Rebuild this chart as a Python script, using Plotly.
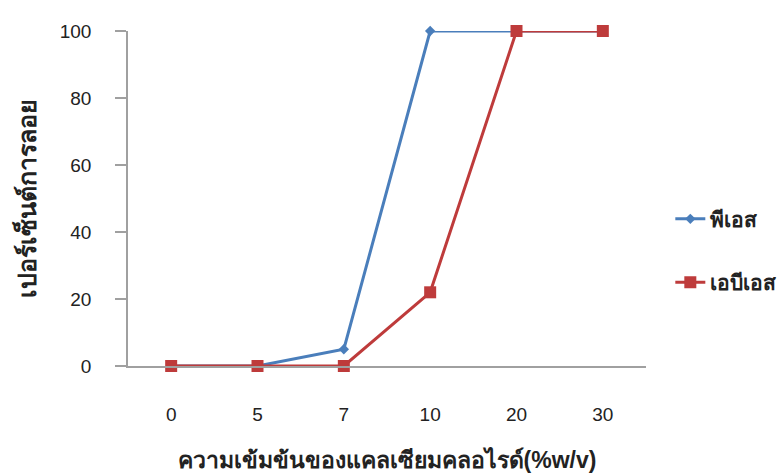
import plotly.graph_objects as go

# Calcium chloride concentration (%w/v) and float percentage for two samples
concentrations = ["0", "5", "7", "10", "20", "30"]
ps_values = [0, 0, 5, 100, 100, 100]
abs_values = [0, 0, 0, 22, 100, 100]

series_names = ["<b>พีเอส</b>", "<b>เอบีเอส</b>"]
blue = "#4A7EBB"
red = "#BE3B3B"
axis_grey = "#a0a0a0"

font_family = "Liberation Sans, Arial, Noto Sans, sans-serif"

fig = go.Figure()
fig.add_trace(go.Scatter(
    x=concentrations, y=ps_values, name=series_names[0], mode="lines+markers",
    line=dict(color=blue, width=3),
    marker=dict(symbol="diamond", size=8, color=blue),
    legendgroup="a", cliponaxis=False,
))
fig.add_trace(go.Scatter(
    x=concentrations, y=abs_values, name=series_names[1], mode="lines+markers",
    line=dict(color=red, width=3),
    marker=dict(symbol="square", size=12, color=red),
    legendgroup="b", cliponaxis=False,
))

fig.update_layout(
    width=784, height=473,
    margin=dict(l=128, r=138, t=31, b=107, autoexpand=False),
    paper_bgcolor="white", plot_bgcolor="white",
    font=dict(family=font_family, size=19, color="#222"),
    legend=dict(xref="container", yref="container",
                x=0.855, y=0.47, xanchor="left", yanchor="middle",
                tracegroupgap=33, font=dict(size=21, color="#222"),
                itemwidth=30, bgcolor="rgba(0,0,0,0)"),
    xaxis=dict(
        type="category", range=[-0.5, 5.5], automargin=False,
        showline=True, linecolor=axis_grey, linewidth=1.5,
        showgrid=False, ticks="", zeroline=False,
        tickfont=dict(size=19), ticklabelstandoff=30,
        title=dict(text="<b>ความเข้มข้นของแคลเซียมคลอไรด์(%w/v)</b>",
                   font=dict(size=23), standoff=28),
    ),
    yaxis=dict(
        range=[0, 100], dtick=20, automargin=False,
        showline=True, linecolor=axis_grey, linewidth=1.5,
        showgrid=False, ticks="outside", ticklen=11, tickcolor=axis_grey,
        tickwidth=1.5,
        zeroline=False, tickfont=dict(size=19), ticklabelstandoff=20,
        title=dict(text="<b>เปอร์เซ็นต์การลอย</b>", font=dict(size=25), standoff=16),
    ),
)

fig.write_html("out.html")
